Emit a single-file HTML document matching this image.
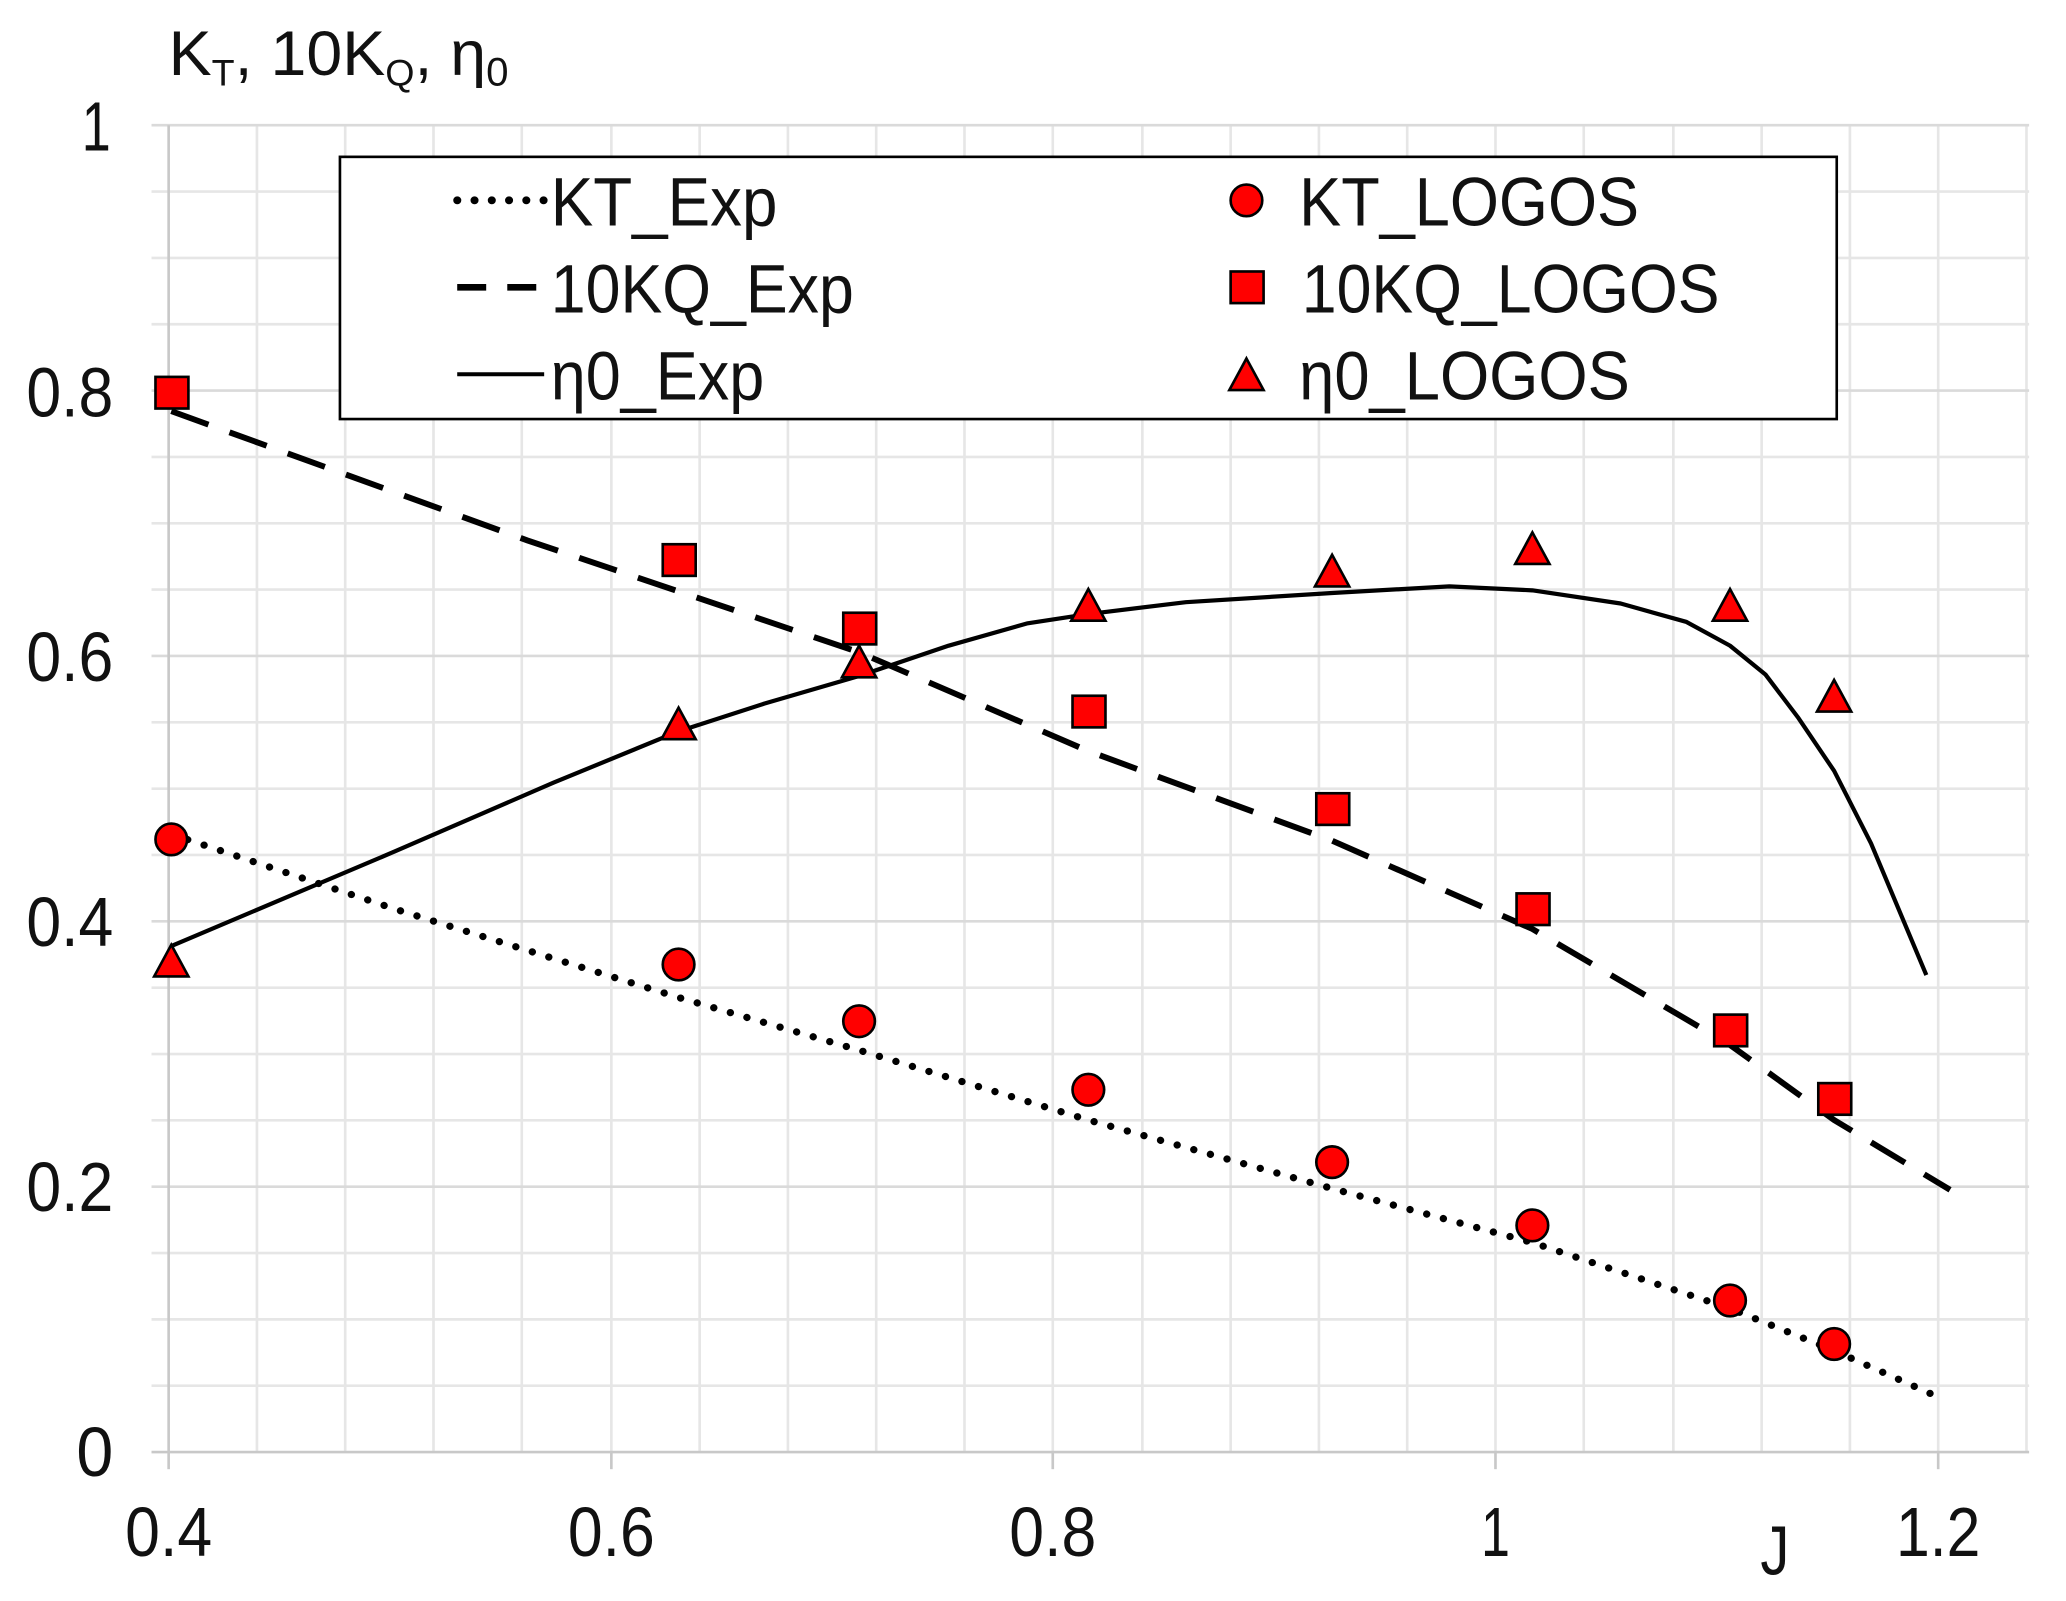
<!DOCTYPE html><html><head><style>body{margin:0;background:#fff}svg{display:block}</style></head><body>
<svg width="2066" height="1601" viewBox="0 0 1568 1215" xmlns="http://www.w3.org/2000/svg" font-family="Liberation Sans, Arial, sans-serif">
<rect width="1568" height="1215" fill="#fff"/>
<g stroke="#e6e6e6" stroke-width="2">
<line x1="195" y1="95" x2="195" y2="1102"/><line x1="262" y1="95" x2="262" y2="1102"/><line x1="329" y1="95" x2="329" y2="1102"/><line x1="396" y1="95" x2="396" y2="1102"/><line x1="464" y1="95" x2="464" y2="1102"/><line x1="531" y1="95" x2="531" y2="1102"/><line x1="598" y1="95" x2="598" y2="1102"/><line x1="665" y1="95" x2="665" y2="1102"/><line x1="732" y1="95" x2="732" y2="1102"/><line x1="799" y1="95" x2="799" y2="1102"/><line x1="867" y1="95" x2="867" y2="1102"/><line x1="934" y1="95" x2="934" y2="1102"/><line x1="1001" y1="95" x2="1001" y2="1102"/><line x1="1068" y1="95" x2="1068" y2="1102"/><line x1="1135" y1="95" x2="1135" y2="1102"/><line x1="1202" y1="95" x2="1202" y2="1102"/><line x1="1270" y1="95" x2="1270" y2="1102"/><line x1="1337" y1="95" x2="1337" y2="1102"/><line x1="1404" y1="95" x2="1404" y2="1102"/><line x1="1471" y1="95" x2="1471" y2="1102"/><line x1="1538" y1="95" x2="1538" y2="1102"/>
</g>
<g stroke="#e6e6e6" stroke-width="2" id="h"></g>
<script>
var g=document.getElementById('h');for(var i=0;i<20;i++){var y=95+i*1007/20;var l=document.createElementNS('http://www.w3.org/2000/svg','line');l.setAttribute('x1',115);l.setAttribute('x2',1540);l.setAttribute('y1',y);l.setAttribute('y2',y);if(i%4==0)l.setAttribute('stroke','#dadada');g.appendChild(l);}
</script>
<line x1="128" y1="95" x2="128" y2="1102" stroke="#c8c8c8" stroke-width="2"/>
<line x1="115" y1="1102" x2="1540" y2="1102" stroke="#c8c8c8" stroke-width="2"/>
<g stroke="#c8c8c8" stroke-width="2"><line x1="128" y1="1102" x2="128" y2="1115"/><line x1="464" y1="1102" x2="464" y2="1115"/><line x1="799" y1="1102" x2="799" y2="1115"/><line x1="1135" y1="1102" x2="1135" y2="1115"/><line x1="1471" y1="1102" x2="1471" y2="1115"/></g>
<g font-size="53" fill="#111" text-anchor="end">
<text x="84" y="114" textLength="22" lengthAdjust="spacingAndGlyphs">1</text><text x="86" y="316" textLength="66" lengthAdjust="spacingAndGlyphs">0.8</text><text x="86" y="517" textLength="66" lengthAdjust="spacingAndGlyphs">0.6</text><text x="86" y="718" textLength="66" lengthAdjust="spacingAndGlyphs">0.4</text><text x="86" y="919" textLength="66" lengthAdjust="spacingAndGlyphs">0.2</text><text x="86" y="1120" textLength="28" lengthAdjust="spacingAndGlyphs">0</text>
</g>
<g font-size="53" fill="#111" text-anchor="middle">
<text x="128" y="1181" textLength="66" lengthAdjust="spacingAndGlyphs">0.4</text><text x="464" y="1181" textLength="66" lengthAdjust="spacingAndGlyphs">0.6</text><text x="799" y="1181" textLength="66" lengthAdjust="spacingAndGlyphs">0.8</text><text x="1135" y="1181" textLength="22" lengthAdjust="spacingAndGlyphs">1</text><text x="1471" y="1181" textLength="64" lengthAdjust="spacingAndGlyphs">1.2</text><text x="1347" y="1195" textLength="22" lengthAdjust="spacingAndGlyphs">J</text>
</g>
<text x="128" y="57" font-size="48" fill="#111" textLength="258" lengthAdjust="spacingAndGlyphs">K<tspan font-size="28" dy="8">T</tspan><tspan dy="-8">, 10K</tspan><tspan font-size="28" dy="8">Q</tspan><tspan dy="-8">, η</tspan><tspan font-size="30" dy="8">0</tspan></text>
<polyline fill="none" stroke="#000" stroke-width="5.5" stroke-dasharray="0.1 13" stroke-linecap="round" points="130,633 300,690 515,757 652,797 826,850 1011,902 1163,943 1313,993 1392,1025 1475,1062"/>
<polyline fill="none" stroke="#000" stroke-width="4.5" stroke-dasharray="30 17" points="130,312 400,410 652,495 826,570 1011,638 1163,705 1313,793 1392,850 1480,903"/>
<polyline fill="none" stroke="#000" stroke-width="3.2" stroke-linejoin="round" points="130,718 300,646 420,594 515,555 580,534 652,513 720,490 780,473 826,466 900,457 1011,450 1100,445 1163,448 1230,458 1280,472 1313,490 1340,512 1365,545 1392,585 1420,640 1462,740"/>
<g fill="#f00" stroke="#000" stroke-width="2">
<circle cx="130" cy="637" r="12"/><circle cx="515" cy="732" r="12"/><circle cx="652" cy="775" r="12"/><circle cx="826" cy="827" r="12"/><circle cx="1011" cy="882" r="12"/><circle cx="1163" cy="930" r="12"/><circle cx="1313" cy="987" r="12"/><circle cx="1392" cy="1020" r="12"/>
<rect x="118" y="286" width="25" height="24"/><rect x="503" y="413" width="25" height="24"/><rect x="640" y="465" width="25" height="24"/><rect x="814" y="528" width="25" height="24"/><rect x="999" y="602" width="25" height="24"/><rect x="1151" y="678" width="25" height="24"/><rect x="1301" y="770" width="25" height="24"/><rect x="1380" y="822" width="25" height="24"/>
</g>
<g fill="#f00" stroke="#000" stroke-width="2">
<polygon points="130,717 143,741 117,741"/><polygon points="515,537 528,561 502,561"/><polygon points="652,490 665,514 639,514"/><polygon points="826,447 839,471 813,471"/><polygon points="1011,421 1024,445 998,445"/><polygon points="1163,404 1176,428 1150,428"/><polygon points="1313,447 1326,471 1300,471"/><polygon points="1392,516 1405,540 1379,540"/>
</g>
<rect x="258" y="119" width="1136" height="199" fill="#fff" stroke="#000" stroke-width="2"/>
<line x1="347" y1="152" x2="413" y2="152" stroke="#000" stroke-width="6" stroke-dasharray="0.1 13" stroke-linecap="round"/>
<line x1="347" y1="218" x2="413" y2="218" stroke="#000" stroke-width="5" stroke-dasharray="22 16"/>
<line x1="347" y1="284" x2="413" y2="284" stroke="#000" stroke-width="3"/>
<g font-size="52" fill="#111">
<text x="418" y="171" textLength="172" lengthAdjust="spacingAndGlyphs">KT_Exp</text><text x="418" y="237" textLength="230" lengthAdjust="spacingAndGlyphs">10KQ_Exp</text><text x="418" y="303" textLength="162" lengthAdjust="spacingAndGlyphs">η0_Exp</text>
<text x="986" y="171" textLength="258" lengthAdjust="spacingAndGlyphs">KT_LOGOS</text><text x="988" y="237" textLength="317" lengthAdjust="spacingAndGlyphs">10KQ_LOGOS</text><text x="986" y="303" textLength="251" lengthAdjust="spacingAndGlyphs">η0_LOGOS</text>
</g>
<g fill="#f00" stroke="#000" stroke-width="2">
<circle cx="946" cy="152" r="12"/><rect x="934" y="206" width="25" height="24"/><polygon points="946,272 959,296 933,296"/>
</g>
</svg>
</body></html>
